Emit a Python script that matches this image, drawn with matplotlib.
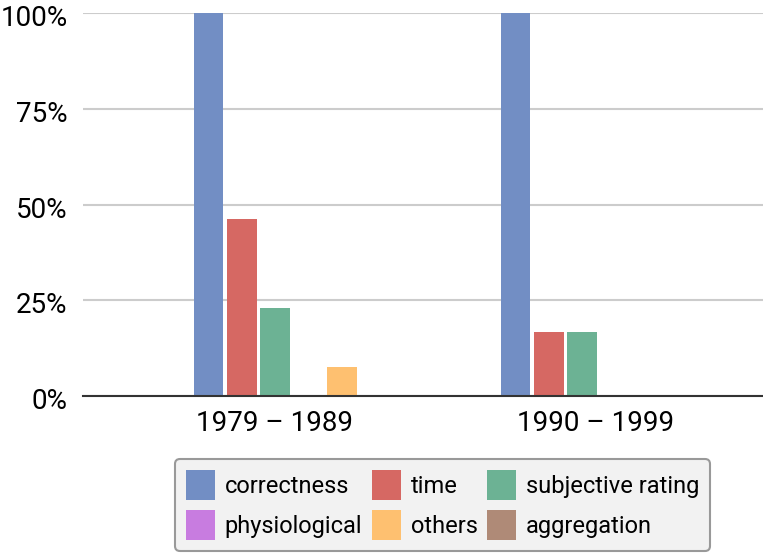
import numpy as np
import matplotlib.pyplot as plt
import matplotlib.transforms as mtransforms
from matplotlib.patches import Patch

plt.rcParams['font.family'] = ['Roboto', 'DejaVu Sans']

periods = ['1979 – 1989', '1990 – 1999']
series = ['correctness', 'time', 'subjective rating', 'physiological', 'others', 'aggregation']
colors = ['#728ec4', '#d66863', '#6cb294', '#c87ce0', '#fec070', '#af8a77']

# share of studies per measure, in percent
values = {
    'correctness':       [100.0, 100.0],
    'time':              [46.2, 16.7],
    'subjective rating': [23.1, 16.7],
    'physiological':     [0.0, 0.0],
    'others':            [7.7, 0.0],
    'aggregation':       [0.0, 0.0],
}

fig = plt.figure(figsize=(7.63, 5.53), dpi=100)
ax = fig.add_axes([83/763, 1 - 396/553, 680/763, 383/553])

x = np.arange(len(periods))
step = 0.109
width = 0.097
for i, name in enumerate(series):
    ax.bar(x + (i - 2.5) * step, values[name], width, color=colors[i], zorder=3)

ax.set_ylim(0, 100)
ax.set_xlim(-0.681, 1.534)
ax.set_yticks([0, 25, 50, 75, 100])
ax.set_yticklabels(['0%', '25%', '50%', '75%', '100%'], fontsize=20)
ax.set_xticks(x - np.array([0.057, 0.01]))
ax.set_xticklabels(periods, fontsize=20)
ax.tick_params(length=0)
ax.tick_params(axis='y', pad=11)
ax.tick_params(axis='x', pad=10)

# nudge the y labels a little below their grid lines
shift = mtransforms.ScaledTranslation(0, -2.5 / 100, fig.dpi_scale_trans)
for lbl in ax.get_yticklabels():
    lbl.set_transform(lbl.get_transform() + shift)

ax.grid(axis='y', color='#cccccc', linewidth=1.5, zorder=0)
for side in ['top', 'right', 'left']:
    ax.spines[side].set_visible(False)
ax.spines['bottom'].set_color('#333333')
ax.spines['bottom'].set_linewidth(1.5)
ax.spines['bottom'].set_zorder(4)

# legend filled column-wise, so reorder to read row by row
handles = [Patch(facecolor=c, label=s) for s, c in zip(series, colors)]
order = [0, 3, 1, 4, 2, 5]
leg = fig.legend([handles[i] for i in order], [series[i] for i in order],
                 loc='lower center', bbox_to_anchor=(0.58, 0.004), ncol=3,
                 borderaxespad=0, fontsize=17, frameon=True, fancybox=True,
                 handlelength=1.25, handleheight=1.6, handletextpad=0.4,
                 columnspacing=0.4, labelspacing=0.4, borderpad=0.45)
leg.get_frame().set_facecolor('#f2f2f2')
leg.get_frame().set_edgecolor('#999999')
leg.get_frame().set_linewidth(1.5)
leg.get_frame().set_alpha(1)

fig.savefig('out.png', dpi=100)
